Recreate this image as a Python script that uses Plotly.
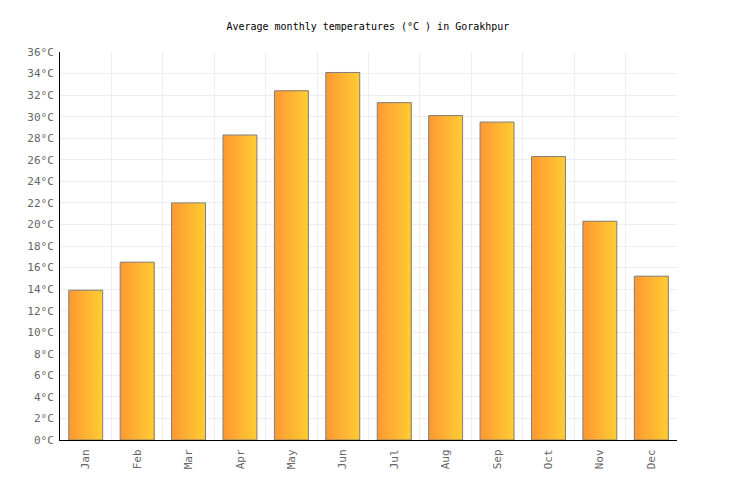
import plotly.graph_objects as go

months = ["Jan", "Feb", "Mar", "Apr", "May", "Jun", "Jul", "Aug", "Sep", "Oct", "Nov", "Dec"]
temps = [13.9, 16.5, 22.0, 28.3, 32.4, 34.1, 31.3, 30.1, 29.5, 26.3, 20.3, 15.2]

bar_w = 0.66
n_slices = 24
c0 = (255, 153, 51)   # left edge of the bar gradient
c1 = (255, 204, 51)   # right edge

fig = go.Figure()

# horizontal gradient: each slice runs to the right edge, later ones cover earlier ones
step = bar_w / n_slices
for i in range(n_slices):
    t = i / (n_slices - 1)
    col = "rgb(%d,%d,%d)" % tuple(round(a + (b - a) * t) for a, b in zip(c0, c1))
    fig.add_trace(go.Bar(
        x=months, y=temps, width=bar_w - i * step, offset=-bar_w / 2 + i * step,
        marker=dict(color=col, line_width=0), hoverinfo="skip", showlegend=False))

# outline
fig.add_trace(go.Bar(
    x=months, y=temps, width=bar_w, offset=-bar_w / 2,
    marker=dict(color="rgba(0,0,0,0)", line=dict(color="#808080", width=1)),
    showlegend=False))

# page body adds 8px, margins compensate
fig.update_layout(
    width=736, height=500, barmode="overlay",
    paper_bgcolor="white", plot_bgcolor="white",
    margin=dict(l=52, r=67, t=44, b=68),
    font=dict(family="DejaVu Sans Mono", size=11, color="#666666"),
    title=dict(text="Average monthly temperatures (°C ) in Gorakhpur", x=0.489, xanchor="center",
               y=0.964, yanchor="middle", font=dict(size=10, color="black")),
)
fig.update_xaxes(
    type="category", tickson="boundaries", ticks="", tickangle=-90, ticklabelstandoff=4,
    showgrid=True, gridcolor="#eeeeee", gridwidth=1, automargin=False,
    showline=True, linecolor="black", linewidth=1,
)
fig.update_yaxes(
    range=[0, 36], dtick=2, ticksuffix="°C", ticks="", automargin=False, ticklabelstandoff=3,
    showgrid=True, gridcolor="#eeeeee", gridwidth=1, zeroline=False,
    showline=True, linecolor="black", linewidth=1,
)

fig.write_html("out.html")
